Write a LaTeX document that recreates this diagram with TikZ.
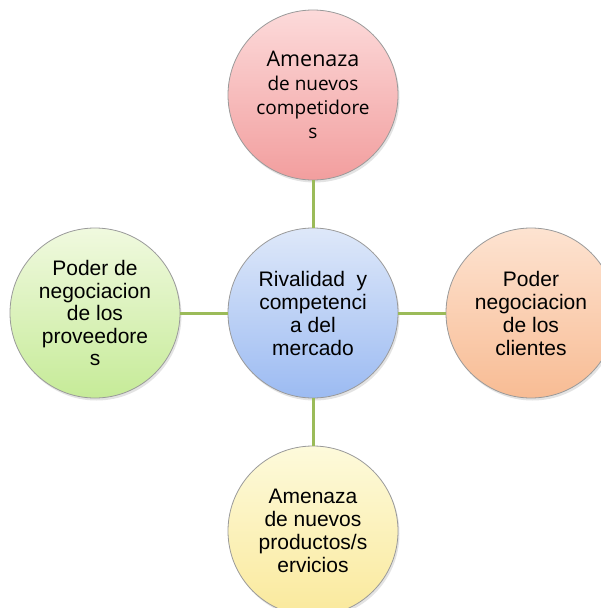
\documentclass[tikz,border=0pt]{standalone}
\usepackage{fontspec}
\setmainfont{Liberation Sans}
\newfontfamily\topfont{Open Sans}
\usetikzlibrary{shadows}
\definecolor{linkgreen}{HTML}{9BBB59}
\definecolor{rimgray}{HTML}{9A9A9A}
\tikzset{
  force/.style={circle, minimum size=170pt, inner sep=0pt, draw=rimgray, line width=0.8pt,
    align=center, font=\fontsize{21}{23}\selectfont,
    drop shadow={opacity=0.22, shadow xshift=1.5pt, shadow yshift=-2.5pt}},
  link/.style={draw=linkgreen, line width=3pt},
  pinkfill/.style={top color=pinkTop, bottom color=pinkBot},
  bluefill/.style={top color=blueTop, bottom color=blueBot},
  limefill/.style={top color=limeTop, bottom color=limeBot},
  peachfill/.style={top color=peachTop, bottom color=peachBot},
  yellowfill/.style={top color=yelTop, bottom color=yelBot}
}
\definecolor{pinkTop}{HTML}{FCDADA}
\definecolor{pinkBot}{HTML}{F29E9E}
\definecolor{blueTop}{HTML}{DEE8F9}
\definecolor{blueBot}{HTML}{9CBBF2}
\definecolor{limeTop}{HTML}{F0F9DF}
\definecolor{limeBot}{HTML}{C6EB98}
\definecolor{peachTop}{HTML}{FDE3D1}
\definecolor{peachBot}{HTML}{F8BC94}
\definecolor{yelTop}{HTML}{FDFADB}
\definecolor{yelBot}{HTML}{FAE99C}
\begin{document}
\begin{tikzpicture}[x=1pt, y=-1pt]
  \useasboundingbox (0,0) rectangle (601,608);
  \fill[white] (0,0) rectangle (601,608);
  % the five forces
  \node[force, pinkfill, font=\topfont\fontsize{19}{24}\selectfont] (rivals) at (313,95)
    {{\fontsize{21.5}{24}\selectfont Amenaza}\\de nuevos\\competidore\\s};
  \node[force, bluefill] (market) at (313,313)
    {Rivalidad~~y\\competenci\\a del\\mercado};
  \node[force, limefill, font=\fontsize{21}{22.5}\selectfont] (suppliers) at (95,313)
    {Poder de\\negociacion\\de los\\proveedore\\s};
  \node[force, peachfill] (clients) at (531,313)
    {Poder\\negociacion\\de los\\clientes};
  \node[force, yellowfill] (substitutes) at (313,531)
    {Amenaza\\de nuevos\\productos/s\\ervicios};
  % connectors to the centre
  \draw[link] (rivals) -- (market);
  \draw[link] (suppliers) -- (market);
  \draw[link] (market) -- (clients);
  \draw[link] (market) -- (substitutes);
\end{tikzpicture}
\end{document}
